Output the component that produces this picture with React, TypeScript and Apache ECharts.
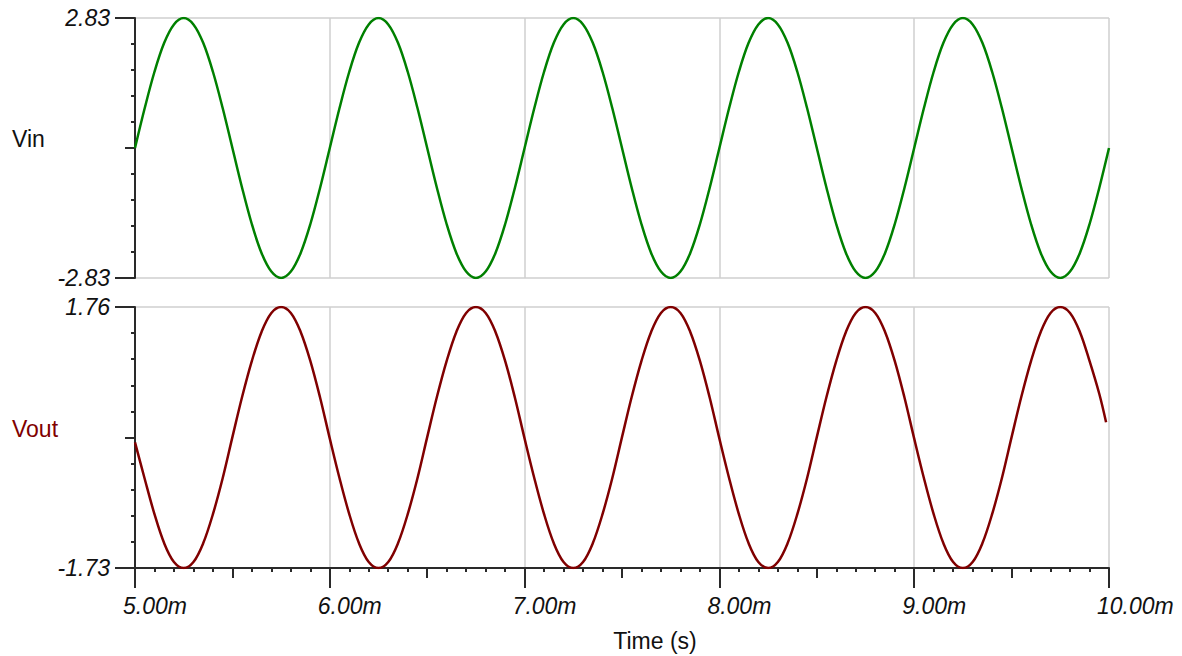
import React, { useEffect, useRef } from "react";
import * as echarts from "echarts";

// Time axis (ms): samples every 0.05 ms from 5.00 ms
const startTime = 5;
const sampleStep = 0.05;

// Vin samples (V), 5.00 ms .. 10.00 ms
const vinValues = [
  0, 0.87, 1.66, 2.29, 2.69, 2.83, 2.69, 2.29, 1.66, 0.87,
  0, -0.87, -1.66, -2.29, -2.69, -2.83, -2.69, -2.29, -1.66, -0.87,
  0, 0.87, 1.66, 2.29, 2.69, 2.83, 2.69, 2.29, 1.66, 0.87,
  0, -0.87, -1.66, -2.29, -2.69, -2.83, -2.69, -2.29, -1.66, -0.87,
  0, 0.87, 1.66, 2.29, 2.69, 2.83, 2.69, 2.29, 1.66, 0.87,
  0, -0.87, -1.66, -2.29, -2.69, -2.83, -2.69, -2.29, -1.66, -0.87,
  0, 0.87, 1.66, 2.29, 2.69, 2.83, 2.69, 2.29, 1.66, 0.87,
  0, -0.87, -1.66, -2.29, -2.69, -2.83, -2.69, -2.29, -1.66, -0.87,
  0, 0.87, 1.66, 2.29, 2.69, 2.83, 2.69, 2.29, 1.66, 0.87,
  0, -0.87, -1.66, -2.29, -2.69, -2.83, -2.69, -2.29, -1.66, -0.87,
  0,
];

// Vout samples (V), 5.00 ms .. 9.95 ms
const voutValues = [
  -0.05, -0.54, -1.01, -1.4, -1.65, -1.73, -1.65, -1.4, -1.01, -0.53,
  0.02, 0.56, 1.04, 1.43, 1.68, 1.76, 1.68, 1.43, 1.04, 0.55,
  0.0, -0.53, -1.01, -1.4, -1.65, -1.73, -1.65, -1.4, -1.01, -0.53,
  0.02, 0.56, 1.04, 1.43, 1.68, 1.76, 1.68, 1.43, 1.04, 0.55,
  0.0, -0.53, -1.01, -1.4, -1.65, -1.73, -1.65, -1.4, -1.01, -0.53,
  0.02, 0.56, 1.04, 1.43, 1.68, 1.76, 1.68, 1.43, 1.04, 0.55,
  0.0, -0.53, -1.01, -1.4, -1.65, -1.73, -1.65, -1.4, -1.01, -0.53,
  0.02, 0.56, 1.04, 1.43, 1.68, 1.76, 1.68, 1.43, 1.04, 0.55,
  0.0, -0.53, -1.01, -1.4, -1.65, -1.73, -1.65, -1.4, -1.01, -0.53,
  0.02, 0.56, 1.04, 1.43, 1.68, 1.76, 1.68, 1.43, 1.04, 0.6,
];
// last Vout sample where the trace stops
const voutLastPoint = [9.985, 0.22];

// Axis ranges and tick labels
const timeMin = 5;
const timeMax = 10;
const vinMin = -2.83;
const vinMax = 2.83;
const voutMin = -1.73;
const voutMax = 1.76;

const FONT = "'Liberation Sans', Arial, sans-serif";
const AXIS = "#2a2a2a";
const GRIDC = "#cfcfcf";

export default function App() {
  const ref = useRef<HTMLDivElement>(null);
  useEffect(() => {
    if (!ref.current) return;
    const chart = echarts.init(ref.current, null, { renderer: "svg" });
    const vinData = vinValues.map((v, i) => [startTime + i * sampleStep, v]);
    const voutData = voutValues.map((v, i) => [startTime + i * sampleStep, v]);
    voutData.push(voutLastPoint);

    const grid0 = { left: 135, top: 18, width: 974, height: 260 };
    const grid1 = { left: 135, top: 307, width: 974, height: 261 };

    const labelStyle = {
      fontFamily: FONT,
      fontStyle: "italic",
      fontSize: 23,
      color: "#111",
    };

    chart.setOption({
      animation: false,
      backgroundColor: "#fff",
      grid: [grid0, grid1],
      xAxis: [
        {
          type: "value", gridIndex: 0, position: "bottom", min: timeMin, max: timeMax, interval: 1,
          axisLine: { show: false, onZero: false }, axisTick: { show: false }, axisLabel: { show: false },
          splitLine: { show: true, lineStyle: { color: GRIDC, width: 1.5 } },
        },
        {
          type: "value", gridIndex: 1, position: "bottom", min: timeMin, max: timeMax, interval: 1,
          axisLine: { show: true, onZero: false, lineStyle: { color: AXIS, width: 2 } },
          axisTick: { show: true, length: 20, lineStyle: { color: AXIS, width: 2 } },
          minorTick: { show: true, splitNumber: 10, length: 4, lineStyle: { color: AXIS, width: 2 } },
          axisLabel: {
            ...labelStyle, margin: 26, align: "left", padding: [0, 0, 0, -12],
            formatter: (v: number) => v.toFixed(2) + "m",
          },
          splitLine: { show: true, lineStyle: { color: GRIDC, width: 1.5 } },
        },
        {
          type: "value", gridIndex: 1, position: "bottom", min: timeMin, max: timeMax, interval: 0.5,
          axisLine: { show: false, onZero: false }, axisLabel: { show: false }, splitLine: { show: false },
          axisTick: { show: true, length: 10, lineStyle: { color: AXIS, width: 2 } },
        },
      ],
      yAxis: [
        {
          type: "value", gridIndex: 0, position: "left", min: vinMin, max: vinMax, interval: vinMax - vinMin,
          axisLine: { show: true, onZero: false, lineStyle: { color: AXIS, width: 2 } },
          axisTick: { show: true, length: 20, lineStyle: { color: AXIS, width: 2 } },
          minorTick: { show: true, splitNumber: 10, length: 4, lineStyle: { color: AXIS, width: 2 } },
          axisLabel: { ...labelStyle, margin: 25, formatter: (v: number) => v.toFixed(2) },
          splitLine: { show: true, lineStyle: { color: GRIDC, width: 1.5 } },
        },
        {
          type: "value", gridIndex: 0, position: "left", min: vinMin, max: vinMax, interval: (vinMax - vinMin) / 2,
          axisLine: { show: false, onZero: false }, axisLabel: { show: false }, splitLine: { show: false },
          axisTick: { show: true, length: 10, lineStyle: { color: AXIS, width: 2 } },
        },
        {
          type: "value", gridIndex: 1, position: "left", min: voutMin, max: voutMax, interval: voutMax - voutMin,
          axisLine: { show: true, onZero: false, lineStyle: { color: AXIS, width: 2 } },
          axisTick: { show: true, length: 20, lineStyle: { color: AXIS, width: 2 } },
          minorTick: { show: true, splitNumber: 10, length: 4, lineStyle: { color: AXIS, width: 2 } },
          axisLabel: { ...labelStyle, margin: 25, formatter: (v: number) => v.toFixed(2) },
          splitLine: { show: true, lineStyle: { color: GRIDC, width: 1.5 } },
        },
        {
          type: "value", gridIndex: 1, position: "left", min: voutMin, max: voutMax, interval: (voutMax - voutMin) / 2,
          axisLine: { show: false, onZero: false }, axisLabel: { show: false }, splitLine: { show: false },
          axisTick: { show: true, length: 10, lineStyle: { color: AXIS, width: 2 } },
        },
      ],
      series: [
        {
          name: "Vin", type: "line", xAxisIndex: 0, yAxisIndex: 0, data: vinData,
          showSymbol: false, symbol: "none", smooth: 0.35,
          lineStyle: { color: "#008000", width: 2.5 }, z: 5,
        },
        {
          name: "Vout", type: "line", xAxisIndex: 1, yAxisIndex: 2, data: voutData,
          showSymbol: false, symbol: "none", smooth: 0.35,
          lineStyle: { color: "#800000", width: 2.5 }, z: 5,
        },
      ],
      graphic: [
        {
          type: "text", left: 12, top: 127,
          style: { text: "Vin", font: `23px ${FONT}`, fill: "#111" },
        },
        {
          type: "text", left: 12, top: 417,
          style: { text: "Vout", font: `23px ${FONT}`, fill: "#800000" },
        },
        {
          type: "text", x: 655, y: 641,
          style: {
            text: "Time (s)", font: `23px ${FONT}`, fill: "#111",
            align: "center", verticalAlign: "middle",
          },
        },
      ],
    });
    return () => chart.dispose();
  }, []);
  return (
    <div
      ref={ref}
      style={{ position: "absolute", left: 0, top: 0, width: 1182, height: 656 }}
    />
  );
}
